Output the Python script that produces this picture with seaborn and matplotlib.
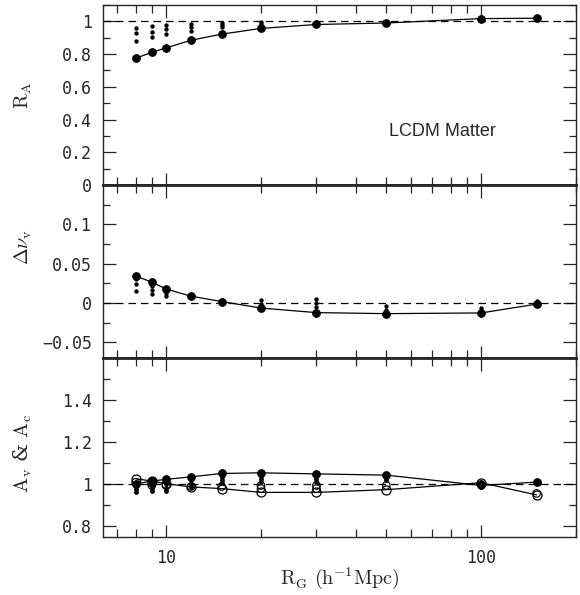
import matplotlib
matplotlib.use("Agg")
import matplotlib.pyplot as plt
import matplotlib.ticker as mticker
import seaborn as sns

# smoothing radii (h^-1 Mpc)
R = [8, 9, 10, 12, 15, 20, 30, 50, 100, 150]

# amplitude ratio R_A
ra_mean = [0.774, 0.811, 0.838, 0.885, 0.922, 0.957, 0.981, 0.990, 1.017, 1.019]
ra_extra_r = [8, 8, 8, 9, 9, 9, 10, 10, 10, 12, 12, 12, 15, 15, 15, 20, 20, 20]
ra_extra = [0.959, 0.930, 0.879, 0.969, 0.937, 0.902, 0.980, 0.953, 0.920,
            0.985, 0.963, 0.941, 0.990, 0.976, 0.963, 0.996, 0.981, 0.967]

# shift Delta nu_v
dnu_mean = [0.0345, 0.0266, 0.0179, 0.0087, 0.0020, -0.0063, -0.0121, -0.0134, -0.0125, -0.0013]
dnu_extra_r = [8, 8, 8, 9, 9, 9, 10, 10, 15, 20, 20, 30, 30, 30, 50, 50, 100, 150]
dnu_extra = [0.030, 0.024, 0.0155, 0.0217, 0.0167, 0.012, 0.0133, 0.009, 0.0035,
             0.0037, -0.0017, 0.0058, 0.0, -0.0054, -0.0034, -0.0084, -0.0067, 0.0033]

# A_v (filled) and A_c (open)
av_mean = [1.002, 1.016, 1.024, 1.036, 1.052, 1.055, 1.050, 1.044, 0.995, 1.011]
ac_mean = [1.027, 1.016, 1.003, 0.988, 0.980, 0.962, 0.962, 0.975, 1.008, 0.950]
av_extra_r = [8, 8, 9, 9, 9, 10, 10, 10, 12, 12, 12, 15, 15, 15,
              20, 20, 20, 30, 30, 30, 50, 50, 100, 100]
av_extra = [0.980, 0.965, 1.000, 0.985, 0.970, 1.004, 0.985, 0.970, 1.020, 1.000, 0.990,
            1.035, 1.020, 1.005, 1.040, 1.025, 1.010, 1.040, 1.025, 1.010, 1.030, 1.020,
            0.990, 1.005]
ac_extra_r = [8, 9, 9, 10, 12, 15, 20, 20, 30, 30, 50, 100, 150]
ac_extra = [1.010, 1.005, 0.995, 0.995, 0.990, 0.990, 0.995, 0.980, 0.995, 0.980,
            0.995, 1.000, 0.957]

# labelled ticks per panel
ra_ticks = [0, 0.2, 0.4, 0.6, 0.8, 1]
dnu_ticks = [-0.05, 0, 0.05, 0.1]
a_ticks = [0.8, 1, 1.2, 1.4]

sns.set_style("ticks")
plt.rcParams.update({
    "font.family": ["DejaVu Sans Mono"],
    "mathtext.fontset": "cm",
    "xtick.direction": "in",
    "ytick.direction": "in",
    "xtick.top": True,
    "ytick.right": True,
    "axes.linewidth": 1.0,
})

fig = plt.figure(figsize=(5.8, 5.95), dpi=100)
rects = [(0.1776, 0.689, 0.8154, 0.3026),
         (0.1776, 0.398, 0.8154, 0.291),
         (0.1776, 0.0975, 0.8154, 0.3005)]
axs = [fig.add_axes(r) for r in rects]


def fmt(v, pos):
    return f"{v:g}".replace("-", "\u2212")


def style(ax, lo, hi, ticks, minor, ref):
    ax.set_xscale("log")
    ax.set_xlim(6.3, 200)
    ax.set_ylim(lo, hi)
    ax.axhline(ref, color="k", lw=0.9, dashes=(6, 4), zorder=1)
    ax.yaxis.set_major_locator(mticker.FixedLocator(ticks))
    ax.yaxis.set_minor_locator(mticker.MultipleLocator(minor))
    ax.yaxis.set_major_formatter(mticker.FuncFormatter(fmt))
    ax.xaxis.set_minor_locator(mticker.LogLocator(base=10, subs=range(2, 10)))
    ax.xaxis.set_minor_formatter(mticker.NullFormatter())
    ax.tick_params(axis="y", which="major", length=9.5, width=0.9, labelsize=12, pad=8)
    ax.tick_params(axis="y", which="minor", length=5, width=0.9)
    ax.tick_params(axis="x", which="major", length=9, width=0.9, labelsize=12, pad=9)
    ax.tick_params(axis="x", which="minor", length=6, width=0.9)


# top: R_A
ax = axs[0]
sns.scatterplot(x=ra_extra_r, y=ra_extra, ax=ax, color="k", s=10, linewidth=0, zorder=3)
sns.lineplot(x=R, y=ra_mean, ax=ax, color="k", lw=0.9, marker="o", markersize=5.5,
             markeredgecolor="k", zorder=4)
style(ax, 0, 1.1, ra_ticks, 0.1, 1.0)
ax.set_ylabel(r"$\mathrm{R_A}$", fontsize=14.5)
ax.yaxis.set_label_coords(-0.145, 0.5)
ax.text(0.717, 0.30, "LCDM Matter", transform=ax.transAxes, ha="center", va="center",
        fontsize=13, family="Liberation Sans")
ax.tick_params(labelbottom=False)

# middle: Delta nu_v
ax = axs[1]
sns.scatterplot(x=dnu_extra_r, y=dnu_extra, ax=ax, color="k", s=10, linewidth=0, zorder=3)
sns.lineplot(x=R, y=dnu_mean, ax=ax, color="k", lw=0.9, marker="o", markersize=5.5,
             markeredgecolor="k", zorder=4)
style(ax, -0.07, 0.15, dnu_ticks, 0.025, 0.0)
ax.set_ylabel(r"$\Delta\nu_\mathrm{v}$", fontsize=14.5)
ax.yaxis.set_label_coords(-0.145, 0.64)
ax.tick_params(labelbottom=False)

# bottom: A_v & A_c
ax = axs[2]
sns.scatterplot(x=av_extra_r, y=av_extra, ax=ax, color="k", s=12, linewidth=0, zorder=3)
sns.scatterplot(x=ac_extra_r, y=ac_extra, ax=ax, marker="o", s=30,
                facecolors="none", edgecolor="k", linewidth=0.8, zorder=3)
sns.lineplot(x=R, y=av_mean, ax=ax, color="k", lw=0.9, marker="o", markersize=5.5,
             markeredgecolor="k", zorder=4)
sns.lineplot(x=R, y=ac_mean, ax=ax, color="k", lw=0.9, marker="o", markersize=6.5,
             markerfacecolor="none", markeredgecolor="k", markeredgewidth=0.9, zorder=4)
style(ax, 0.75, 1.6, a_ticks, 0.1, 1.0)
ax.set_ylabel(r"$\mathrm{A_v}$ & $\mathrm{A_c}$", fontsize=14.5, family="DejaVu Serif")
ax.yaxis.set_label_coords(-0.145, 0.47)
ax.xaxis.set_major_formatter(mticker.FuncFormatter(lambda v, p: f"{v:g}"))
ax.set_xlabel(r"$\mathrm{R_G\ (h^{-1}Mpc)}$", fontsize=14.5)
ax.xaxis.set_label_coords(0.5, -0.16)

# thicker separators between panels
axs[0].spines["bottom"].set_linewidth(2.0)
axs[1].spines["top"].set_linewidth(2.0)
axs[1].spines["bottom"].set_linewidth(2.0)
axs[2].spines["top"].set_linewidth(2.0)

fig.savefig("out.png", dpi=100)
